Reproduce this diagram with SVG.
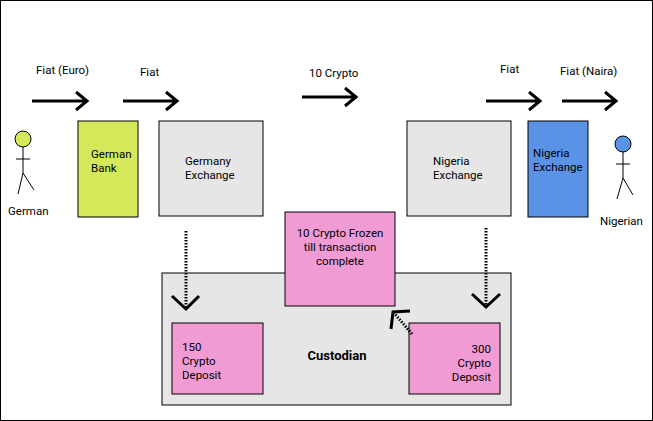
<svg xmlns="http://www.w3.org/2000/svg" width="653" height="421" viewBox="0 0 653 421">
<style>
text{font-family:Roboto,"Liberation Sans",sans-serif;font-size:11.5px;fill:#000}
.b{stroke:#000;stroke-width:1}
.a{fill:none;stroke:#000;stroke-width:3}
.d{fill:none;stroke:#000;stroke-width:3;stroke-dasharray:1.5 1.5}
.s{fill:none;stroke:#000;stroke-width:1}
</style>
<rect x="0.5" y="0.5" width="652" height="420" fill="#fff" stroke="#000"/>
<g id="custodian"><rect class="b" x="162" y="273" width="349" height="132" fill="#e6e6e6"/><text x="337" y="360" text-anchor="middle" font-weight="bold" style="font-size:13px">Custodian</text></g>
<g id="german"><circle class="b" cx="23" cy="139" r="8" fill="#d5e85a"/><path class="s" d="M23 147V173M16 159H30M23 173L18 194M23 173L34 190"/><text x="8" y="215">German</text></g>
<g id="nigerian"><circle class="b" cx="623" cy="144" r="8" fill="#5a93e6"/><path class="s" d="M623 152V178M616 164H630M623 178L617 199M623 178L633 195"/><text x="600" y="225">Nigerian</text></g>
<g id="german-bank"><rect class="b" x="78" y="121" width="60" height="96" fill="#d5e85a"/><text x="91" y="158">German</text><text x="91" y="172">Bank</text></g>
<g id="germany-exchange"><rect class="b" x="159" y="121" width="104" height="95" fill="#e6e6e6"/><text x="185" y="165">Germany</text><text x="185" y="179">Exchange</text></g>
<g id="nigeria-exchange"><rect class="b" x="407" y="121" width="104" height="95" fill="#e6e6e6"/><text x="433" y="165">Nigeria</text><text x="433" y="179">Exchange</text></g>
<g id="nigeria-exchange-2"><rect class="b" x="528" y="121" width="60" height="96" fill="#5a93e6"/><text x="533" y="157">Nigeria</text><text x="533" y="171">Exchange</text></g>
<g id="frozen"><rect class="b" x="285" y="212" width="110" height="94" fill="#f09bd4"/><text x="340" y="237" text-anchor="middle">10 Crypto Frozen</text><text x="340" y="251" text-anchor="middle">till transaction</text><text x="340" y="265" text-anchor="middle">complete</text></g>
<g id="deposit-150"><rect class="b" x="172" y="323" width="91" height="71" fill="#f09bd4"/><text x="182" y="351">150</text><text x="182" y="365">Crypto</text><text x="182" y="379">Deposit</text></g>
<g id="deposit-300"><rect class="b" x="409" y="323" width="91" height="71" fill="#f09bd4"/><text x="491" y="353" text-anchor="end">300</text><text x="491" y="367" text-anchor="end">Crypto</text><text x="491" y="381" text-anchor="end">Deposit</text></g>
<g id="connectors">
<path class="a" d="M32 101H87M76 92L87 101L76 110"/>
<path class="a" d="M123 101H177M166 92L177 101L166 110"/>
<path class="a" d="M302 97H356M345 88L356 97L345 106"/>
<path class="a" d="M486 101H540M529 92L540 101L529 110"/>
<path class="a" d="M562 101H616M605 92L616 101L605 110"/>
<path class="d" d="M186 231V307"/><path class="a" d="M172 296L186 309L199 296"/>
<path class="d" d="M486 228V307"/><path class="a" d="M472 294L486 307L500 294"/>
<path class="d" d="M412 334L394 313"/><path class="a" d="M391 329L393 312L410 311"/>
</g>
<g id="labels"><text x="36" y="74">Fiat (Euro)</text><text x="140" y="76">Fiat</text><text x="309" y="77">10 Crypto</text><text x="500" y="73">Fiat</text><text x="560" y="75">Fiat (Naira)</text></g>
</svg>
